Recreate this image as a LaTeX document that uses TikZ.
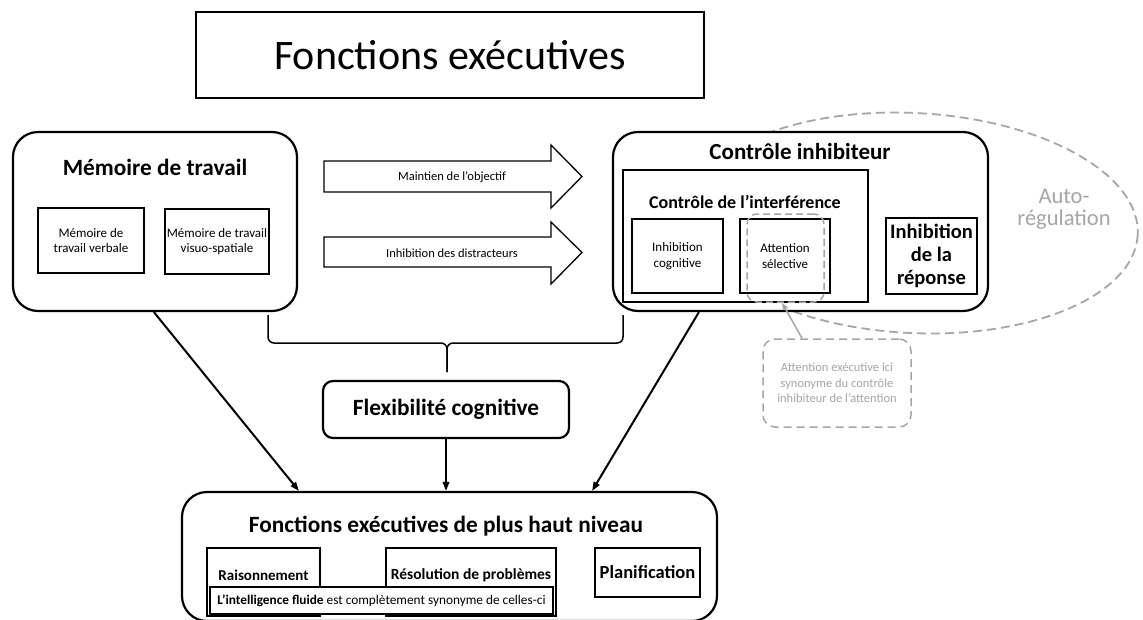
\documentclass[tikz,border=0pt]{standalone}
\usepackage{fontspec}
\setmainfont{Carlito}
\usetikzlibrary{arrows.meta,calc}
\definecolor{lg}{HTML}{A6A6A6}
\begin{document}
\begin{tikzpicture}[x=1pt,y=-1pt,
  rbox/.style={draw, line width=2.2pt, rounded corners=25pt, fill=white, inner sep=0pt},
  ibox/.style={draw, line width=1.2pt, fill=white, inner sep=0pt, align=center},
  small/.style={font=\fontsize{13}{15.5}\selectfont},
  head/.style={font=\fontsize{23.3}{27}\selectfont\bfseries},
  fatarrow/.style={draw, line width=1.3pt, fill=white},
  conn/.style={line width=2pt, -{Triangle[length=9pt,width=6.5pt]}},
  brace/.style={line width=1.5pt, rounded corners=6pt},
  gdash/.style={draw=lg, line width=1.8pt, dash pattern=on 9pt off 5pt},
  gtext/.style={text=lg, align=center}]
\fill[white] (0,0) rectangle (1143,619);
\useasboundingbox (0,0) rectangle (1143,619);

% title
\node[draw, line width=1.5pt, minimum width=508pt, minimum height=86pt, inner sep=0pt,
      font=\fontsize{42}{50}\selectfont] (title) at (450,55) {Fonctions exécutives};

% auto-regulation ellipse (behind the inhibitory control box)
\draw[gdash, rotate around={-3:(913,223)}] (913,223) ellipse [x radius=225, y radius=110];
\node[gtext, font=\fontsize{22.5}{22}\selectfont] (autoreg) at (1064,209) {Auto-\\régulation};

% working memory
\node[rbox, minimum width=284pt, minimum height=179pt] (mem) at (155,221.5) {};
\node[head] (memt) at (155,167) {Mémoire de travail};
\node[ibox, small, minimum width=106pt, minimum height=65pt] (mv) at (91,240.5) {Mémoire de\\travail verbale};
\node[ibox, small, minimum width=104pt, minimum height=65pt] (mvs) at (217,241.5) {Mémoire de travail\\visuo-spatiale};

% fat arrows
\draw[fatarrow] (324,161) -- (551,161) -- (551,145) -- (582,176.5) -- (551,208) -- (551,192) -- (324,192) -- cycle;
\node[font=\fontsize{12.5}{14}\selectfont] (a1) at (452,177) {Maintien de l’objectif};
\draw[fatarrow] (324,237) -- (551,237) -- (551,222) -- (582,252.5) -- (551,284) -- (551,267) -- (324,267) -- cycle;
\node[font=\fontsize{12.5}{14}\selectfont] (a2) at (452,253) {Inhibition des distracteurs};

% inhibitory control
\node[rbox, minimum width=375pt, minimum height=179pt] (ci) at (800.5,221.5) {};
\node[font=\fontsize{23}{27}\selectfont\bfseries] (cit) at (800,152) {Contrôle inhibiteur};
\node[ibox, line width=1.8pt, minimum width=245pt, minimum height=132pt] (cint) at (745.5,236) {};
\node[font=\fontsize{18}{21}\selectfont\bfseries] (cintt) at (745,202) {Contrôle de l’interférence};
\node[ibox, font=\fontsize{13}{15.5}\selectfont, minimum width=91pt, minimum height=74pt] (icog) at (677.5,256) {Inhibition\\cognitive};
\node[ibox, font=\fontsize{13}{15.5}\selectfont, minimum width=90pt, minimum height=74pt] (asel) at (785,256) {Attention\\sélective};
\node[gdash, line width=1.5pt, dash pattern=on 7pt off 4pt, rounded corners=10pt, minimum width=77pt, minimum height=88pt, inner sep=0pt] (ds) at (785.5,258) {};
\node[ibox, font=\fontsize{20.5}{23}\selectfont\bfseries, minimum width=91pt, minimum height=76pt] (irep) at (931.5,256) {Inhibition\\de la\\réponse};

% executive attention note
\node[gdash, line width=1.5pt, dash pattern=on 8pt off 5pt, rounded corners=12pt, minimum width=148pt, minimum height=88pt, inner sep=0pt,
      gtext, font=\fontsize{12.5}{15.5}\selectfont] (aexec) at (837,383) {Attention exécutive ici\\synonyme du contrôle\\inhibiteur de l’attention};
\draw[lg, line width=1.5pt, -{Triangle[length=7pt,width=5pt]}] ([xshift=-35pt]aexec.north) -- ([xshift=-3.5pt]ds.south);

% brace
\draw[brace] (268,315) -- (268,343) -- (447,343) -- (447,372);
\draw[brace] (623,315) -- (623,343) -- (447,343) -- (447,372);

% cognitive flexibility
\node[draw, line width=2.2pt, rounded corners=10pt, minimum width=246pt, minimum height=57pt, inner sep=0pt, head] (flex) at (446,409.5) {Flexibilité cognitive};

% higher level executive functions
\node[rbox, minimum width=535pt, minimum height=129pt] (hi) at (449.5,556.5) {};
\node[head] (hit) at (446,526) {Fonctions exécutives de plus haut niveau};
\node[ibox, minimum width=113pt, minimum height=68pt] (rais) at (263.5,582) {};
\node[font=\fontsize{15}{17}\selectfont\bfseries] (raist) at (263.5,575) {Raisonnement};
\node[ibox, minimum width=170pt, minimum height=68pt] (reso) at (471,582) {};
\node[font=\fontsize{15.5}{17}\selectfont\bfseries] (resot) at (471,575) {Résolution de problèmes};
\node[ibox, minimum width=105pt, minimum height=49pt, font=\fontsize{18.5}{20}\selectfont\bfseries] (plan) at (647.5,572.5) {Planification};
\node[ibox, minimum width=343pt, minimum height=27pt, font=\fontsize{13.3}{14}\selectfont] (intel) at (381.5,600.5) {\textbf{L’intelligence fluide} est complètement synonyme de celles-ci};

% connectors
\draw[conn] ([xshift=142pt]mem.south west) -- ([xshift=118pt]hi.north west);
\draw[conn] (flex.south) -- (flex.south |- hi.north);
\draw[conn] ([xshift=87pt]ci.south west) -- ([xshift=-126pt]hi.north east);
\end{tikzpicture}
\end{document}
